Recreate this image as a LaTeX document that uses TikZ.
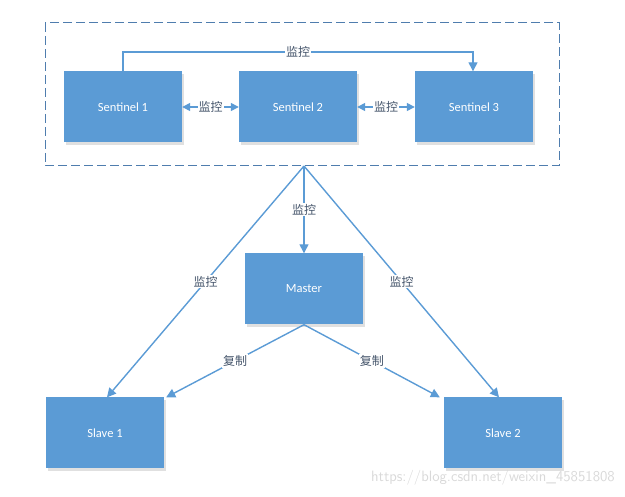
\documentclass[tikz,border=0pt]{standalone}
\usepackage{fontspec}
\setmainfont{Carlito}
\newfontfamily\cjk{Noto Sans CJK SC}
\usetikzlibrary{arrows.meta}
\definecolor{boxblue}{HTML}{5B9BD5}
\definecolor{lineblue}{HTML}{5B9BD5}
\definecolor{dashblue}{HTML}{4F7DAE}
\definecolor{lbl}{HTML}{44546A}
\tikzset{
  box/.style={draw=none, fill=boxblue, text=white, minimum width=118pt, minimum height=71pt, inner sep=0pt, font=\fontsize{12.5}{14}\selectfont},
  shadowbox/.style={fill=black!12, minimum width=118pt, minimum height=71pt, inner sep=0pt, draw=none},
  conn/.style={draw=lineblue, line width=1.4pt, -{Triangle[length=9pt,width=9pt]}},
  biconn/.style={draw=lineblue, line width=1.4pt, {Triangle[length=8pt,width=8pt]}-{Triangle[length=8pt,width=8pt]}},
  lab/.style={fill=white, inner sep=1pt, text=lbl, font=\cjk\fontsize{12}{14}\selectfont},
}
\begin{document}
\begin{tikzpicture}[x=1pt,y=-1pt]
\useasboundingbox (0,0) rectangle (625,497);
% dashed group
\draw[dashblue, line width=1pt, dash pattern=on 9pt off 4pt] (45,23) rectangle (559,166);
% shadows
\foreach \px/\py [count=\i] in {124.5/109.5,299.5/109.5,475.5/109.5,305.5/291.5,106.5/435.5,504.5/435.5}
  \node[shadowbox] (sh\i) at (\px,\py) {};
% nodes
\node[box] (s1) at (123,107) {Sentinel 1};
\node[box] (s2) at (298,107) {Sentinel 2};
\node[box] (s3) at (474,107) {Sentinel 3};
\node[box] (m) at (304,289) {Master};
\node[box] (sl1) at (105,433) {Slave 1};
\node[box] (sl2) at (503,433) {Slave 2};
\coordinate (apex) at (304,166);
\coordinate (topl) at (123,52);
\coordinate (topr) at (473,52);
% sentinel connectors
\draw[conn] (s1.north) -- (topl) -- node[lab] {监控} (topr) -- (topr |- s3.north);
\draw[biconn] (s1.east) -- node[lab] {监控} (s2.west);
\draw[biconn] (s2.east) -- node[lab] {监控} (s3.west);
% monitoring
\draw[conn] (apex) -- node[lab, pos=0.5] {监控} (m.north);
\draw[conn] (apex) -- node[lab, pos=0.5] {监控} ([xshift=2pt]sl1.north);
\draw[conn] (apex) -- node[lab, pos=0.5] {监控} ([xshift=-4pt]sl2.north);
% replication
\draw[conn] (m.south) -- node[lab, pos=0.5] {复制} ([xshift=2pt]sl1.north east);
\draw[conn] (m.south) -- node[lab, pos=0.5] {复制} ([xshift=-4pt]sl2.north west);
% watermark
\node[text=black!15, font=\fontsize{15}{17}\selectfont\sffamily, anchor=east, inner sep=0pt] (wm) at (615,478) {https://blog.csdn.net/weixin\_45851808};
\end{tikzpicture}
\end{document}
